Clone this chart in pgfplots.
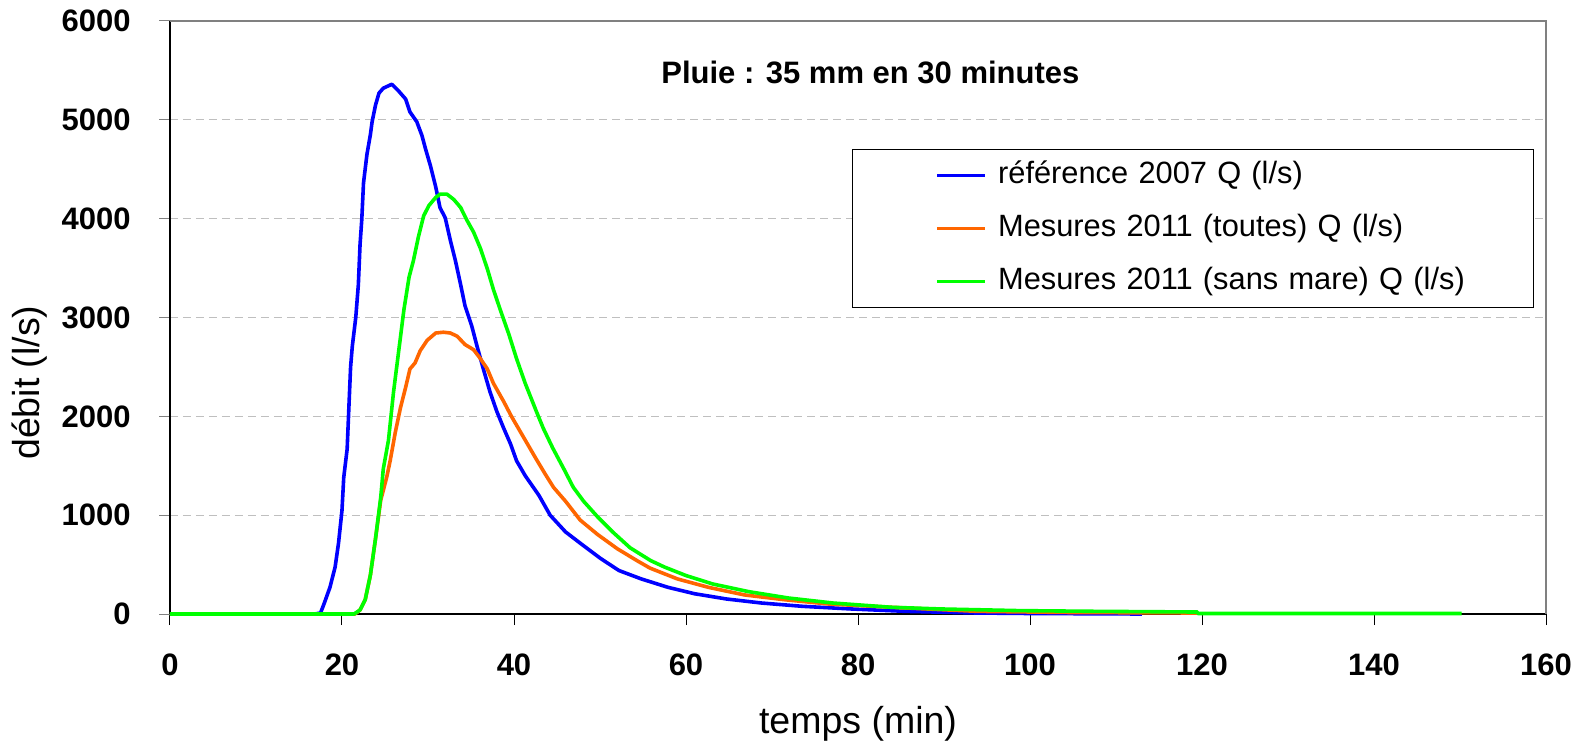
\documentclass[border=0pt]{standalone}
\usepackage{fontspec}
\setmainfont{Liberation Sans}
\usepackage{pgfplots}
\pgfplotsset{compat=1.18}
\definecolor{qblue}{HTML}{0000FF}
\definecolor{qorange}{HTML}{FF6600}
\definecolor{qgreen}{HTML}{00FF00}
\begin{document}
\begin{tikzpicture}
\begin{axis}[
    at={(0,0)}, anchor=south west,
    scale only axis, width=688bp, height=296.5bp,
    xmin=0, xmax=160, ymin=0, ymax=6000,
    xtick={0,20,...,160}, ytick={0,1000,...,6000},
    axis lines=left, axis line style={-, black, line width=0.6bp},
    tick align=outside, major tick length=5.5bp,
    xtick style={black, line width=0.5bp},
    ytick style={gray, line width=0.5bp},
    ymajorgrids,
    grid style={gray!50, dash pattern=on 4bp off 2.5bp, line width=0.6bp},
    tick label style={font=\fontsize{15.5bp}{18bp}\selectfont\bfseries, inner sep=0pt},
    xticklabel style={anchor=center, yshift=-20bp},
    yticklabel style={anchor=east, xshift=-14bp},
    /pgf/number format/assume math mode=true,
    /pgf/number format/set thousands separator={},
    xlabel={temps (min)}, ylabel={débit (l/s)},
    label style={font=\fontsize{18.75bp}{22bp}\selectfont},
    xlabel style={at={(axis description cs:0.5,-0.1855)}, anchor=center},
    ylabel style={at={(axis description cs:-0.1017,0.39)}, anchor=center},
    clip=false,
    legend style={at={(rel axis cs:0.4956,0.784)}, anchor=north west,
        draw=black, line width=0.6bp, fill=white,
        inner xsep=0bp, inner ysep=5.75bp, row sep=12bp,
        font=\fontsize{15.4bp}{18bp}\selectfont,
        nodes={inner sep=0pt, text height=11bp, text depth=3.5bp,
               text width=267.5bp, align=left}},
    legend cell align=left,
    legend image code/.code={\path (0bp,0bp) (71bp,0bp);
        \draw[#1, line width=1.8bp] (41.5bp,0bp) -- (65.5bp,0bp);},
]

% reference 2007
\addplot[qblue, line width=1.8bp, line join=round] coordinates {
(0,0) (16.8,0) (17.5,10) (17.9,100) (18.6,270) (19.2,475) (19.6,720) (20.0,1050)
(20.2,1380) (20.6,1670) (20.8,2090) (21.0,2500) (21.2,2710) (21.6,3000) (21.9,3330)
(22.1,3740) (22.3,3990) (22.5,4360) (22.9,4650) (23.3,4850) (23.5,4980) (23.9,5150)
(24.3,5270) (24.8,5320) (25.8,5360) (26.6,5290) (27.4,5210) (27.9,5080) (28.7,4980)
(29.3,4840) (29.7,4710) (30.3,4530) (30.9,4320) (31.4,4110) (32.0,4010) (32.6,3780)
(33.2,3570) (33.8,3330) (34.3,3120) (35.1,2910) (35.7,2710) (36.5,2460) (37.2,2250)
(38.0,2050) (38.8,1880) (39.6,1720) (40.3,1550) (41.3,1400) (42.9,1200) (44.2,1000)
(46.0,830) (48.1,690) (50.1,560) (52.2,440) (54.8,355) (57.9,270) (61.0,205)
(64.7,152) (68.8,111) (73.5,78) (79.2,51) (85.5,27) (93.8,10) (100,5) (113,0)
};
\addlegendentry{référence 2007 Q (l/s)}

% mesures 2011 (toutes)
\addplot[qorange, line width=1.8bp, line join=round] coordinates {
(0,0) (21.5,0) (22.1,40) (22.7,145) (23.3,393) (23.9,764) (24.5,1150) (25.2,1384)
(25.6,1550) (26.2,1839) (26.8,2087) (27.4,2293) (27.9,2479) (28.5,2541) (29.1,2665)
(29.9,2769) (30.9,2843) (31.8,2851) (32.6,2843) (33.4,2810) (34.3,2727) (35.3,2674)
(36.1,2583) (36.9,2479) (37.6,2335) (38.8,2150) (39.7,2000) (40.5,1880) (41.5,1730)
(42.5,1580) (43.6,1420) (44.6,1281) (46.0,1140) (47.7,950) (49.7,806) (52.0,661)
(54.3,540) (55.8,465) (59.0,355) (62.6,270) (66.8,193) (71.4,145) (76.6,101)
(83.9,68) (93.8,27) (105,15) (119.4,10)
};
\addlegendentry{Mesures 2011 (toutes) Q (l/s)}

% mesures 2011 (sans mare)
\addplot[qgreen, line width=1.8bp, line join=round] coordinates {
(0,0) (21.4,0) (22.1,41) (22.7,145) (23.3,393) (23.9,764) (24.5,1178) (24.8,1467)
(25.4,1756) (26.0,2252) (26.6,2665) (27.2,3079) (27.8,3409) (28.3,3574) (28.9,3822)
(29.5,4029) (30.1,4132) (30.9,4215) (31.4,4248) (32.2,4248) (33.0,4194) (33.8,4112)
(34.5,3988) (35.3,3864) (36.1,3698) (36.9,3492) (37.6,3285) (38.4,3079) (39.4,2831)
(40.3,2583) (41.3,2335) (42.6,2050) (43.4,1880) (44.5,1680) (45.8,1467) (46.9,1281)
(48.1,1140) (49.7,985) (51.5,828) (53.5,670) (55.9,540) (57.5,475) (60.0,389)
(63.1,304) (67.3,226) (71.9,162) (77.1,111) (83.9,68) (89.6,51) (98.9,34)
(107.8,27) (119.5,20) (119.5,5) (150.2,5)
};
\addlegendentry{Mesures 2011 (sans mare) Q (l/s)}

\draw[gray, line width=0.6bp] (rel axis cs:0,1) -- (rel axis cs:1,1) -- (rel axis cs:1,0);
\node[font=\fontsize{15.5bp}{18bp}\selectfont\bfseries] at (rel axis cs:0.509,0.914)
    {Pluie : 35 mm en 30 minutes};
\end{axis}
\pgfresetboundingbox
\path (-85bp,-66.5bp) rectangle (705.5bp,307bp);
\end{tikzpicture}
\end{document}
